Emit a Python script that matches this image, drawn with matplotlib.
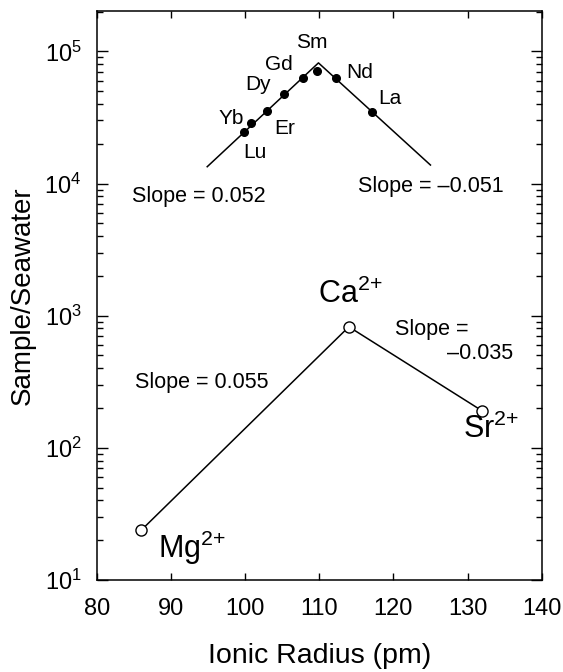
import matplotlib.pyplot as plt
import numpy as np

plt.rcParams['font.family'] = ['Liberation Sans', 'DejaVu Sans']
plt.rcParams['mathtext.fontset'] = 'custom'
plt.rcParams['mathtext.rm'] = 'Liberation Sans'
plt.rcParams['mathtext.it'] = 'Liberation Sans'

# REE data (ionic radius pm, sample/seawater)
ree_names = ['Lu', 'Yb', 'Er', 'Dy', 'Gd', 'Sm', 'Nd', 'La']
ree_radius = [99.9, 100.8, 103.0, 105.2, 107.8, 109.7, 112.3, 117.1]
ree_ratio = [24600, 28500, 35300, 47200, 62400, 71200, 62400, 34800]

# fitted REE lines
fit_x = [94.9, 109.9, 125.0]
fit_y = [13400, 81800, 13800]

# alkaline earth data
ae_names = ['Mg$^{2{+}}$', 'Ca$^{2{+}}$', 'Sr$^{2{+}}$']
ae_radius = [86, 114, 132]
ae_ratio = [23.8, 824, 190]

fig = plt.figure(figsize=(5.63, 6.72), dpi=100)
ax = fig.add_axes([96.7 / 563, 1 - 580 / 672, 445 / 563, 569 / 672])

ax.plot(fit_x, fit_y, color='black', lw=1.1)
ax.plot(ree_radius, ree_ratio, 'o', color='black', ms=5.5)
ax.plot(ae_radius, ae_ratio, '-o', color='black', lw=1.1, ms=8,
        mfc='white', mec='black', mew=1.0)

ax.set_yscale('log')
ax.set_xlim(80, 140)
ax.set_ylim(10, 2.02e5)
ax.set_xticks([80, 90, 100, 110, 120, 130, 140])
ax.tick_params(which='both', direction='in', top=True, right=True,
               labelsize=17, width=1)
ax.tick_params(which='major', length=8)
ax.tick_params(which='minor', length=4)
ax.tick_params(axis='x', which='major', length=5, pad=13)
ax.tick_params(axis='y', which='major', pad=11)
for s in ax.spines.values():
    s.set_linewidth(1.1)

ax.set_xlabel('Ionic Radius (pm)', fontsize=20.5)
ax.set_ylabel('Sample/Seawater', fontsize=20)
ax.xaxis.set_label_coords(0.5, (580 - 656) / 569)
ax.xaxis.label.set_va('center')
ax.yaxis.set_label_coords((23 - 96.7) / 445, 0.5)
ax.yaxis.label.set_va('center')


def px(x, y):
    # pixel position in the reference -> axes fraction
    return ((x - 96.7) / 445, (580 - y) / 569)


# REE labels
ree_lab_pos = [(255, 153), (231, 118), (285, 129), (258, 85),
               (279, 65), (312, 43), (360, 72), (390, 99)]
for name, (x, y) in zip(ree_names, ree_lab_pos):
    ax.text(*px(x, y), name, transform=ax.transAxes, fontsize=15,
            ha='center', va='center')

# alkaline earth labels (left edge, baseline)
ae_lab_pos = [(158, 557.7), (318, 302.7), (462.7, 438.3)]
for name, (x, y) in zip(ae_names, ae_lab_pos):
    ax.text(*px(x, y), name, transform=ax.transAxes, fontsize=22,
            ha='left', va='baseline')

# slope annotations
ax.text(*px(131.7, 201.7), 'Slope = 0.052', transform=ax.transAxes,
        fontsize=15.5, ha='left', va='baseline')
ax.text(*px(358, 192), 'Slope = \u20130.051', transform=ax.transAxes,
        fontsize=15.5, ha='left', va='baseline')
ax.text(*px(135, 388), 'Slope = 0.055', transform=ax.transAxes,
        fontsize=15.5, ha='left', va='baseline')
ax.text(*px(468, 335), 'Slope =', transform=ax.transAxes,
        fontsize=15.5, ha='right', va='baseline')
ax.text(*px(446.7, 359.3), '\u20130.035', transform=ax.transAxes,
        fontsize=15.5, ha='left', va='baseline')

fig.savefig('out.png', dpi=100)
